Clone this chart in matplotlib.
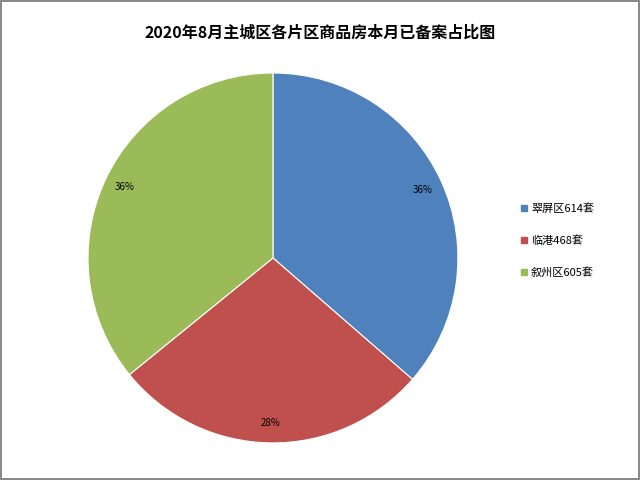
import matplotlib.pyplot as plt
from matplotlib.lines import Line2D

plt.rcParams['font.family'] = ['Noto Sans CJK SC', 'DejaVu Sans']

title = "2020年8月主城区各片区商品房本月已备案占比图"
names = ["翠屏区614套", "临港468套", "叙州区605套"]
counts = [614, 468, 605]
colors = ["#4F81BD", "#C0504D", "#9BBB59"]

fig = plt.figure(figsize=(6.4, 4.8), dpi=100)
fig.patch.set_edgecolor("#8c8c8c")
fig.patch.set_linewidth(1.5)

ax = fig.add_axes([0.1375, 0.0771, 0.578, 0.771])
wedges, texts, autotexts = ax.pie(
    counts, colors=colors, startangle=90, counterclock=False,
    autopct="%.0f%%", pctdistance=0.89,
    wedgeprops=dict(edgecolor="white", linewidth=0.8),
    textprops=dict(fontsize=7, color="black"))
ax.set_xlim(-1, 1)
ax.set_ylim(-1, 1)
ax.set_aspect("equal")

fig.text(0.5, 0.931, title, ha="center", va="center",
         fontsize=11.5, fontweight="bold")

handles = [Line2D([], [], marker="s", linestyle="", markersize=5,
                  markerfacecolor=c, markeredgecolor=c) for c in colors]
fig.legend(handles, names, loc="center left", bbox_to_anchor=(0.795, 0.498),
           frameon=False, fontsize=8, labelspacing=1.9, handletextpad=0.1,
           handlelength=1.0)

fig.savefig("out.png", dpi=100)
